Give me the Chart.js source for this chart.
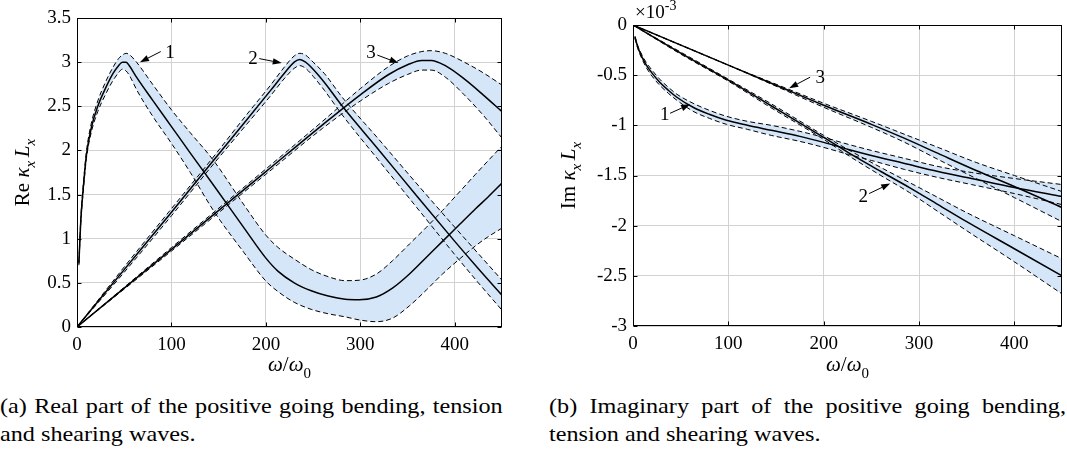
<!DOCTYPE html>
<html>
<head>
<meta charset="utf-8">
<script src="https://cdn.jsdelivr.net/npm/chart.js@4.4.1/dist/chart.umd.min.js"></script>
<style>
body{margin:0;background:#fff;}
#page{position:relative;width:1067px;height:453px;overflow:hidden;background:#fff;font-family:"Liberation Serif","DejaVu Serif",serif;}
canvas{position:absolute;top:0;}
#reChart{left:0;}
#imChart{left:540px;}
.cap{position:absolute;font-size:22px;color:#000;white-space:nowrap;transform:scaleX(1.1);transform-origin:0 0;}
.just{text-align:justify;text-align-last:justify;}
</style>
</head>
<body>
<div id="page">
<canvas id="reChart" width="530" height="390"></canvas>
<canvas id="imChart" width="527" height="390"></canvas>
<div class="cap just" style="left:0;top:393px;width:457px">(a) Real part of the positive going bending, tension</div>
<div class="cap" style="left:0;top:421px">and shearing waves.</div>
<div class="cap just" style="left:549px;top:393px;width:470px">(b) Imaginary part of the positive going bending,</div>
<div class="cap" style="left:549px;top:421px">tension and shearing waves.</div>
</div>
<script>
/* data: omega/omega0 and kappa_x L_x, centre line + upper/lower bound of the band */

/* (a) real part */
const re1X   = [2, 4, 7, 10, 15, 22, 30, 38, 44, 48, 52, 56, 63, 80, 100, 120, 145, 177, 200, 213, 230, 248, 266, 284, 299, 317, 334, 352, 370, 387, 405, 422, 435, 450];
const re1Mid = [0.72, 1.2, 1.62, 1.95, 2.25, 2.5, 2.7, 2.87, 2.96, 3.0, 3.0, 2.95, 2.83, 2.57, 2.27, 1.97, 1.6, 1.12, 0.78, 0.63, 0.5, 0.41, 0.35, 0.315, 0.31, 0.34, 0.44, 0.6, 0.79, 0.97, 1.16, 1.34, 1.47, 1.63];
const re1Hi  = [0.74, 1.23, 1.66, 1.99, 2.3, 2.56, 2.77, 2.94, 3.04, 3.08, 3.1, 3.08, 3.0, 2.75, 2.46, 2.2, 1.88, 1.38, 1.04, 0.9, 0.77, 0.65, 0.57, 0.525, 0.53, 0.6, 0.75, 0.94, 1.13, 1.32, 1.53, 1.73, 1.88, 2.05];
const re1Lo  = [0.7, 1.17, 1.58, 1.91, 2.2, 2.44, 2.63, 2.79, 2.88, 2.92, 2.9, 2.84, 2.69, 2.39, 2.08, 1.75, 1.31, 0.84, 0.52, 0.4, 0.28, 0.2, 0.15, 0.115, 0.08, 0.06, 0.1, 0.24, 0.42, 0.6, 0.77, 0.92, 1.02, 1.12];

const re2X   = [0, 50, 100, 141, 180, 205, 220, 230, 236, 242, 250, 262, 281, 320, 360, 400, 425, 450];
const re2Mid = [0, 0.65, 1.3, 1.84, 2.35, 2.68, 2.88, 3.0, 3.03, 3.0, 2.92, 2.77, 2.5, 2.0, 1.48, 0.97, 0.66, 0.36];
const re2Hi  = [0, 0.68, 1.34, 1.88, 2.41, 2.74, 2.95, 3.07, 3.1, 3.08, 3.0, 2.87, 2.6, 2.12, 1.62, 1.13, 0.83, 0.53];
const re2Lo  = [0, 0.62, 1.26, 1.8, 2.3, 2.62, 2.82, 2.93, 2.96, 2.93, 2.84, 2.68, 2.4, 1.88, 1.35, 0.82, 0.5, 0.19];

const re3X   = [0, 100, 200, 260, 300, 330, 350, 365, 375, 390, 410, 430, 450];
const re3Mid = [0, 0.88, 1.76, 2.29, 2.63, 2.86, 2.97, 3.02, 3.02, 2.96, 2.81, 2.63, 2.44];
const re3Hi  = [0, 0.9, 1.79, 2.33, 2.7, 2.95, 3.07, 3.12, 3.13, 3.1, 3.0, 2.88, 2.74];
const re3Lo  = [0, 0.86, 1.73, 2.25, 2.56, 2.76, 2.86, 2.91, 2.91, 2.83, 2.63, 2.4, 2.14];

/* (b) imaginary part, in units of 1e-3 */
const im1X   = [2, 5, 10, 14, 20, 28, 37, 46, 63, 80, 98, 120, 145, 175, 200, 226, 250, 285, 320, 355, 400, 450];
const im1Mid = [-0.12, -0.22, -0.33, -0.4, -0.48, -0.57, -0.65, -0.72, -0.82, -0.89, -0.95, -1.0, -1.05, -1.11, -1.17, -1.24, -1.3, -1.38, -1.46, -1.53, -1.62, -1.71];
const im1Hi  = [-0.11, -0.205, -0.31, -0.375, -0.45, -0.54, -0.62, -0.69, -0.78, -0.85, -0.91, -0.96, -1.0, -1.06, -1.12, -1.19, -1.25, -1.33, -1.41, -1.47, -1.53, -1.59];
const im1Lo  = [-0.13, -0.235, -0.35, -0.425, -0.51, -0.6, -0.68, -0.75, -0.86, -0.93, -0.99, -1.04, -1.1, -1.16, -1.22, -1.29, -1.35, -1.44, -1.52, -1.59, -1.68, -1.79];

const im2X   = [0, 50, 100, 144, 200, 229, 260, 290, 320, 350, 400, 450];
const im2Mid = [0, -0.28, -0.55, -0.8, -1.12, -1.29, -1.46, -1.62, -1.79, -1.96, -2.23, -2.5];
const im2Hi  = [0, -0.27, -0.54, -0.78, -1.1, -1.26, -1.42, -1.57, -1.72, -1.87, -2.1, -2.33];
const im2Lo  = [0, -0.29, -0.56, -0.82, -1.14, -1.32, -1.5, -1.67, -1.86, -2.05, -2.36, -2.68];

const im3X   = [0, 100, 150, 200, 250, 285, 320, 360, 400, 450];
const im3Mid = [0, -0.4, -0.6, -0.8, -0.99, -1.13, -1.28, -1.45, -1.61, -1.82];
const im3Hi  = [0, -0.4, -0.59, -0.78, -0.96, -1.09, -1.22, -1.37, -1.5, -1.66];
const im3Lo  = [0, -0.4, -0.61, -0.82, -1.02, -1.17, -1.34, -1.53, -1.72, -1.96];

/* ticks */
const xTicks   = [0, 100, 200, 300, 400];
const reYTicks = [0, 0.5, 1, 1.5, 2, 2.5, 3, 3.5];
const imYTicks = [0, -0.5, -1, -1.5, -2, -2.5, -3];

/* numbered arrows: label pos, arrow tail, arrow tip (data units) */
const reNotes = [
  {label:"1", tx:98.5, ty:3.10, fx:88.7, fy:3.12, ax:66.7, ay:3.00},
  {label:"2", tx:186.4, ty:3.04, fx:193, fy:3.04, ax:216.8, ay:2.99},
  {label:"3", tx:311.4, ty:3.10, fx:318, fy:3.08, ax:340.4, ay:2.99}
];
const imNotes = [
  {label:"1", tx:33.2, ty:-0.90, fx:38.9, fy:-0.88, ax:59.9, ay:-0.79},
  {label:"3", tx:196.3, ty:-0.53, fx:185.8, fy:-0.52, ax:163.8, ay:-0.63},
  {label:"2", tx:241.5, ty:-1.71, fx:247.7, fy:-1.68, ax:269.8, ay:-1.58}
];

const FONT = '"Liberation Serif", "DejaVu Serif", serif';
const BAND = '#d6e6f9';
const GRID = '#d2d2d2';

function pts(xs, ys){
  return xs.map((x,i)=>({x:x, y:ys[i]}));
}

function band(xs, mid, hi, lo){
  return [
    {data:pts(xs,hi), borderColor:'#000', borderWidth:1, borderDash:[5,3], fill:'+1', backgroundColor:BAND},
    {data:pts(xs,lo), borderColor:'#000', borderWidth:1, borderDash:[5,3], fill:false},
    {data:pts(xs,mid), borderColor:'#000', borderWidth:1.5, fill:false}
  ];
}

function arrow(ctx, x0, y0, x1, y1){
  const ang = Math.atan2(y1-y0, x1-x0);
  const len = 9, half = 3.2;
  const bx = x1 - len*Math.cos(ang), by = y1 - len*Math.sin(ang);
  ctx.beginPath();
  ctx.moveTo(x0,y0); ctx.lineTo(bx,by);
  ctx.stroke();
  ctx.beginPath();
  ctx.moveTo(x1,y1);
  ctx.lineTo(bx + half*Math.sin(ang), by - half*Math.cos(ang));
  ctx.lineTo(bx - half*Math.sin(ang), by + half*Math.cos(ang));
  ctx.closePath();
  ctx.fill();
}

function richText(ctx, parts, cx, cy, rotate){
  ctx.save();
  ctx.translate(cx, cy);
  if(rotate) ctx.rotate(-Math.PI/2);
  ctx.textAlign = 'left';
  ctx.textBaseline = 'alphabetic';
  let w = 0;
  parts.forEach(p=>{ ctx.font = p.f; p.w = ctx.measureText(p.t).width; w += p.w; });
  let xx = -w/2;
  parts.forEach(p=>{ ctx.font = p.f; ctx.fillText(p.t, xx, p.dy || 0); xx += p.w; });
  ctx.restore();
}

const big = '21px ' + FONT, bigI = 'italic 21px ' + FONT, sub = 'italic 15px ' + FONT, subN = '15px ' + FONT;

function framePlugin(info){
  return {
    id:'frame',
    afterDraw(chart){
      const ctx = chart.ctx, a = chart.chartArea, x = chart.scales.x, y = chart.scales.y;
      ctx.save();
      ctx.strokeStyle = '#000';
      ctx.fillStyle = '#000';
      ctx.lineWidth = 1;
      const L = Math.round(a.left)+0.5, R = Math.round(a.right)-0.5;
      const T = Math.round(a.top)+0.5, B = Math.round(a.bottom)-0.5;
      ctx.strokeRect(L, T, R-L, B-T);
      ctx.beginPath();
      xTicks.forEach(v=>{
        const px = Math.round(x.getPixelForValue(v))+0.5;
        ctx.moveTo(px,B); ctx.lineTo(px,B-4);
        ctx.moveTo(px,T); ctx.lineTo(px,T+4);
      });
      info.yTicks.forEach(v=>{
        const py = Math.round(y.getPixelForValue(v))+0.5;
        ctx.moveTo(L,py); ctx.lineTo(L+4,py);
        ctx.moveTo(R,py); ctx.lineTo(R-4,py);
      });
      ctx.stroke();

      /* arrows with numbers */
      info.notes.forEach(n=>{
        arrow(ctx, x.getPixelForValue(n.fx), y.getPixelForValue(n.fy), x.getPixelForValue(n.ax), y.getPixelForValue(n.ay));
        ctx.font = '19px ' + FONT;
        ctx.textAlign = 'center';
        ctx.textBaseline = 'middle';
        ctx.fillText(n.label, x.getPixelForValue(n.tx), y.getPixelForValue(n.ty));
      });

      /* axis titles */
      const midX = (a.left + a.right)/2, midY = (a.top + a.bottom)/2;
      richText(ctx, [
        {t:'ω', f:bigI}, {t:'/', f:big}, {t:'ω', f:bigI}, {t:'0', f:subN, dy:7}
      ], midX, 371, false);
      richText(ctx, [
        {t:info.yName + ' ', f:big}, {t:'κ', f:bigI}, {t:'x', f:sub, dy:6}, {t:' ', f:subN},
        {t:'L', f:bigI}, {t:'x', f:sub, dy:6}
      ], info.yTitleX, midY, true);

      if(info.exponent){
        ctx.textAlign = 'left';
        ctx.textBaseline = 'alphabetic';
        ctx.font = '19px ' + FONT;
        ctx.fillText('×10', a.left + 2, 18);
        const w = ctx.measureText('×10').width;
        ctx.font = '14px ' + FONT;
        ctx.fillText('-3', a.left + 2 + w, 10);
      }
      ctx.restore();
    }
  };
}

function makeChart(id, datasets, yMin, yMax, yTicks, box, info){
  return new Chart(document.getElementById(id), {
    type:'line',
    data:{datasets:datasets},
    options:{
      responsive:false,
      animation:false,
      devicePixelRatio:1,
      layout:{padding:{left:0, right:box.right, top:box.top, bottom:0}},
      elements:{point:{radius:0}, line:{cubicInterpolationMode:'monotone'}},
      plugins:{legend:{display:false}, tooltip:{enabled:false}, filler:{drawTime:'beforeDatasetsDraw'}},
      scales:{
        x:{
          type:'linear', min:0, max:450,
          afterBuildTicks:s=>{ s.ticks = xTicks.map(v=>({value:v})); },
          afterFit:s=>{ s.height = box.xh; },
          grid:{color:GRID, drawTicks:false},
          border:{display:false},
          ticks:{color:'#000', font:{family:FONT, size:19}, padding:7, maxRotation:0, callback:v=>String(v)}
        },
        y:{
          type:'linear', min:yMin, max:yMax,
          afterBuildTicks:s=>{ s.ticks = yTicks.map(v=>({value:v})); },
          afterFit:s=>{ s.width = box.yw; },
          grid:{color:GRID, drawTicks:false},
          border:{display:false},
          ticks:{color:'#000', font:{family:FONT, size:19}, padding:6, callback:v=>String(v)}
        }
      }
    },
    plugins:[framePlugin(info)]
  });
}

makeChart('reChart',
  [].concat(band(re1X,re1Mid,re1Hi,re1Lo), band(re2X,re2Mid,re2Hi,re2Lo), band(re3X,re3Mid,re3Hi,re3Lo)),
  0, 3.5, reYTicks,
  {right:28, top:18, yw:77, xh:63},
  {yTicks:reYTicks, notes:reNotes, yName:'Re', yTitleX:29, exponent:false});

makeChart('imChart',
  [].concat(band(im1X,im1Mid,im1Hi,im1Lo), band(im2X,im2Mid,im2Hi,im2Lo), band(im3X,im3Mid,im3Hi,im3Lo)),
  -3, 0, imYTicks,
  {right:5, top:25, yw:93, xh:64},
  {yTicks:imYTicks, notes:imNotes, yName:'Im', yTitleX:35, exponent:true});
</script>
</body>
</html>
